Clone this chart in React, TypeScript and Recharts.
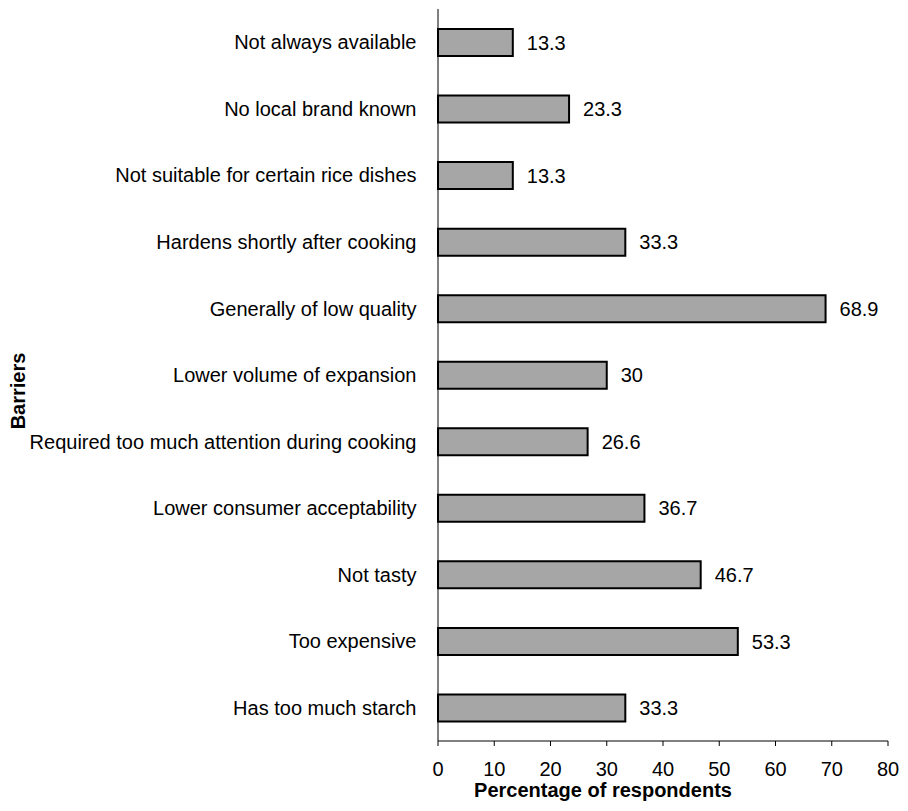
import { Bar, BarChart, LabelList, XAxis, YAxis } from "recharts";

const barriers = [
  "Not always available",
  "No local brand known",
  "Not suitable for certain rice dishes",
  "Hardens shortly after cooking",
  "Generally of low quality",
  "Lower volume of expansion",
  "Required too much attention during cooking",
  "Lower consumer acceptability",
  "Not tasty",
  "Too expensive",
  "Has too much starch"
];

const percentages = [13.3, 23.3, 13.3, 33.3, 68.9, 30, 26.6, 36.7, 46.7, 53.3, 33.3];

const xTicks = [0, 10, 20, 30, 40, 50, 60, 70, 80];

const data = barriers.map((name, i) => ({ name, value: percentages[i] }));
const boundaryTicks = barriers.map((_, i) => i).concat(barriers.length);

const font = "'Liberation Sans', Arial, sans-serif";
const fontSize = 20;

function XTitle({ viewBox }: any) {
  const cx = viewBox.x + viewBox.width / 2 - 60;
  return (
    <text x={cx} y={viewBox.y + 56} textAnchor="middle" fontWeight="bold" fontSize={fontSize} fill="#000">
      Percentage of respondents
    </text>
  );
}

function YTitle({ viewBox }: any) {
  const x = viewBox.x + 17;
  const y = viewBox.y + viewBox.height / 2 + 16;
  return (
    <text x={x} y={y} transform={`rotate(-90 ${x} ${y})`} textAnchor="middle" fontWeight="bold" fontSize={fontSize} fill="#000">
      Barriers
    </text>
  );
}

export default function App() {
  return (
    <div style={{ fontFamily: font }}>
      <BarChart
        width={892}
        height={800}
        data={data}
        layout="vertical"
        margin={{ top: 1, right: 12, bottom: 0, left: 0 }}
        barCategoryGap={0}
      >
        <XAxis
          type="number"
          domain={[0, 80]}
          ticks={xTicks}
          interval={0}
          tickSize={5}
          tickMargin={16}
          height={67}
          stroke="#000"
          tick={{ fill: "#000", fontSize }}
          label={<XTitle />}
        />
        <YAxis
          yAxisId="bounds"
          type="number"
          domain={[0, barriers.length]}
          ticks={boundaryTicks}
          interval={0}
          tick={false}
          tickSize={5}
          width={5}
          stroke="#000"
        />
        <YAxis
          yAxisId="z"
          dataKey="name"
          type="category"
          width={425}
          axisLine={false}
          tickLine={false}
          tickSize={0}
          tickMargin={16.5}
          interval={0}
          tick={{ fill: "#000", fontSize }}
          label={<YTitle />}
        />
        <Bar yAxisId="z" dataKey="value" barSize={27} fill="#a6a6a6" stroke="#000" strokeWidth={2} isAnimationActive={false}>
          <LabelList dataKey="value" position="right" offset={14} fill="#000" fontSize={fontSize} />
        </Bar>
      </BarChart>
    </div>
  );
}
